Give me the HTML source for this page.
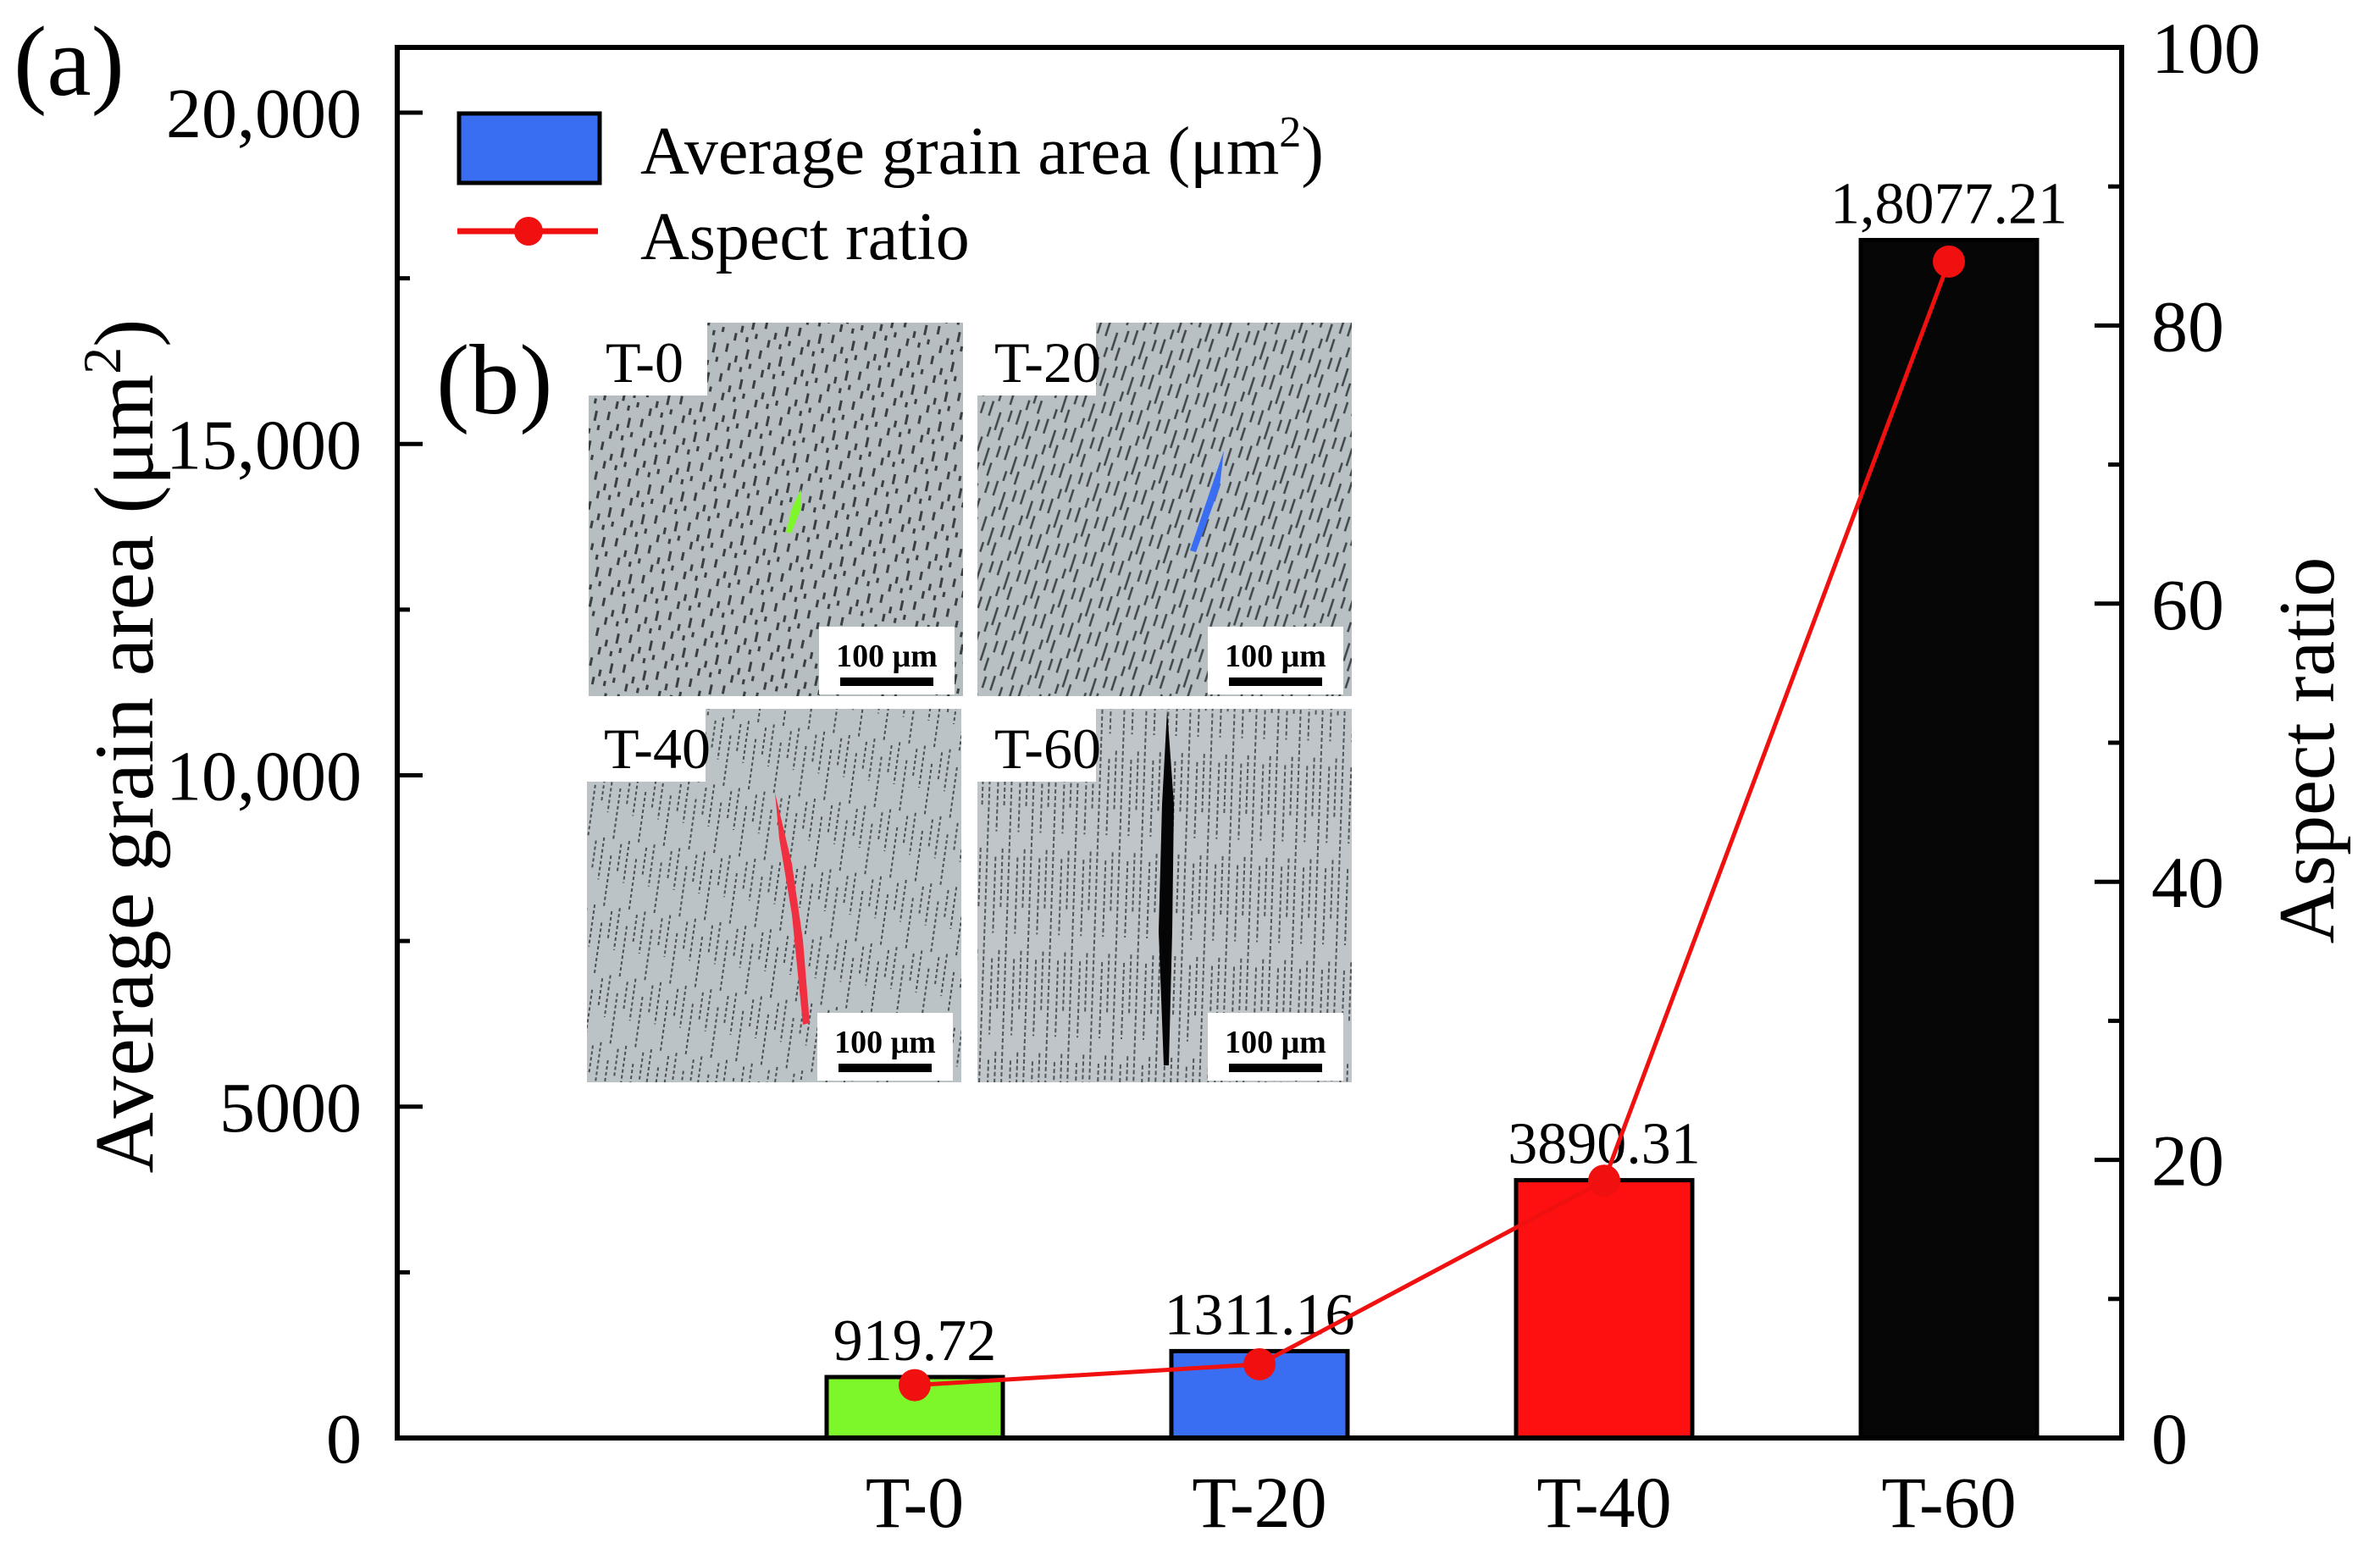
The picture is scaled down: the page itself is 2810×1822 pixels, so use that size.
<!DOCTYPE html>
<html><head><meta charset="utf-8"><style>
html,body{margin:0;padding:0;background:#fff;}
svg{display:block;font-family:"Liberation Serif",serif;}
</style></head><body>
<svg id="chart" width="2810" height="1822" viewBox="0 0 2810 1822" xmlns="http://www.w3.org/2000/svg" font-family="Liberation Serif, serif">
<defs>
<pattern id="pt0" width="40" height="36" patternUnits="userSpaceOnUse" patternTransform="rotate(12)">
<rect width="40" height="36" fill="#b7bec2"/>
<path d="M5 2v10M18 14v8M30 4v12M12 24v9M26 26v6M36 20v6" stroke="#3a3f42" stroke-width="3"/>
</pattern>
<pattern id="pt20" width="34" height="44" patternUnits="userSpaceOnUse" patternTransform="rotate(18)">
<rect width="34" height="44" fill="#b9c0c4"/>
<path d="M4 0v18M16 10v22M28 4v14M10 30v12M24 26v16" stroke="#40474a" stroke-width="2.5"/>
</pattern>
<pattern id="pt40" width="30" height="80" patternUnits="userSpaceOnUse" patternTransform="rotate(8)">
<rect width="30" height="80" fill="#bcc3c6"/>
<path d="M4 0v50M15 20v60M25 5v35" stroke="#4a5154" stroke-width="2" stroke-dasharray="4 3"/>
</pattern>
<pattern id="pt60" width="26" height="120" patternUnits="userSpaceOnUse" patternTransform="rotate(2)">
<rect width="26" height="120" fill="#bfc5c8"/>
<path d="M4 0v120M14 10v90M22 0v70" stroke="#50575a" stroke-width="2" stroke-dasharray="5 3"/>
</pattern>
</defs>
<g id="plot"></g>
</svg>
<script>
const categories = ["T-0","T-20","T-40","T-60"];
const grainArea = [919.72, 1311.16, 3890.31, 18077.21];
const areaLabels = ["919.72","1311.16","3890.31","1,8077.21"];
const aspectRatio = [3.8, 5.3, 18.5, 84.6];
const barColors = ["#7df72a","#3a6ef2","#ff1010","#060606"];
const leftTicks = [0,5000,10000,15000,20000];
const leftTickLabels = ["0","5000","10,000","15,000","20,000"];
const rightTicks = [0,20,40,60,80,100];

const NS="http://www.w3.org/2000/svg";
const g=document.getElementById('plot');
const L=469,R=2505,T=56,B=1698;
const yL=v=>B-(v/20000)*(B-133);
const yR=v=>B-(v/100)*(B-T);
const xC=i=>1080+i*407;
function el(tag,attrs,parent){const e=document.createElementNS(NS,tag);for(const k in attrs)e.setAttribute(k,attrs[k]);(parent||g).appendChild(e);return e;}
function txt(s,attrs){const e=el('text',attrs);e.textContent=s;return e;}

const panels=[[695,381,"T-0","pt0"],[1154,381,"T-20","pt20"],[693,837,"T-40","pt40"],[1154,837,"T-60","pt60"]];
panels.forEach((p,k)=>{
  const grp=el('g',{});
  
  
  el('rect',{x:p[0],y:p[1],width:442,height:441,fill:'url(#'+p[3]+')'},grp);
  el('rect',{x:p[0],y:p[1],width:140,height:86,fill:'#fff'},grp);
  const t=el('text',{x:p[0]+20,y:p[1]+70,'font-size':68,fill:'#000'},grp);t.textContent=p[2];
  el('rect',{x:p[0]+272,y:p[1]+359,width:160,height:80,fill:'#fff'},grp);
  const s=el('text',{x:p[0]+352,y:p[1]+406,'font-size':38,'font-weight':'bold','text-anchor':'middle'},grp);s.textContent="100 μm";
  el('rect',{x:p[0]+297,y:p[1]+419,width:110,height:10,fill:'#000'},grp);
});
el('path',{d:'M946 577 L935 600 L928 628 L934 630 L946 600 Z',fill:'#7df72a'});
el('path',{d:'M1445 532 L1432 570 L1405 650 L1412 652 L1440 575 Z',fill:'#3a6ef2'});
el('path',{d:'M915 936 L920 990 L935 1080 L948 1210 L956 1208 L948 1110 L935 1020 Z',fill:'#f03040'});
el('path',{d:'M1378 838 L1372 950 L1368 1100 L1374 1258 L1380 1258 L1384 1100 L1386 950 Z',fill:'#050505'});
txt("(b)",{x:515,y:488,'font-size':118});

categories.forEach((c,i)=>{
  const y=yL(grainArea[i]);
  const b=el('rect',{x:xC(i)-104,y:y,width:208,height:B-y,fill:barColors[i],stroke:'#000','stroke-width':5});
  
  
  const lb=txt(areaLabels[i],{x:xC(i),y:y-20,'font-size':70,'text-anchor':'middle'});
  
  const xl=txt(c,{x:xC(i),y:1803,'font-size':86,'text-anchor':'middle'});
  
  
});
const pts=aspectRatio.map((v,i)=>xC(i)+','+yR(v)).join(' ');
const ln=el('polyline',{points:pts,fill:'none',stroke:'#f01010','stroke-width':5});

aspectRatio.forEach((v,i)=>{
  const c=el('circle',{cx:xC(i),cy:yR(v),r:19,fill:'#f01010'});
  
  
});

const fr=el('rect',{x:L,y:T,width:R-L,height:B-T,fill:'none',stroke:'#000','stroke-width':6});

for(let v=0;v<=20000;v+=2500){const y=yL(v);el('line',{x1:L,x2:L+(v%5000?15:30),y1:y,y2:y,stroke:'#000','stroke-width':5});}
leftTicks.forEach((v,i)=>{const t=txt(leftTickLabels[i],{x:427,y:yL(v)+29,'font-size':84,'text-anchor':'end'});});
for(let v=0;v<=100;v+=10){const y=yR(v);el('line',{x1:R,x2:R-(v%20?16:32),y1:y,y2:y,stroke:'#000','stroke-width':5});}
rightTicks.forEach(v=>{const t=txt(String(v),{x:2540,y:yR(v)+30,'font-size':86});});

const yt=txt("",{transform:'translate(180,881) rotate(-90)','font-size':100,'text-anchor':'middle',textLength:1009,lengthAdjust:'spacingAndGlyphs'});
yt.innerHTML='Average grain area  (μm<tspan font-size="64" dy="-38">2</tspan><tspan dy="38">)</tspan>';

const rt=txt("Aspect ratio",{transform:'translate(2755,886) rotate(-90)','font-size':94,'text-anchor':'middle'});

txt("(a)",{x:16,y:112,'font-size':118});

const lg=el('g',{});


el('rect',{x:542,y:134,width:166,height:82,fill:'#3a6ef2',stroke:'#000','stroke-width':5},lg);
const l1=el('text',{x:756,y:205,'font-size':80},lg);
l1.innerHTML='Average grain area  (μm<tspan font-size="52" dy="-32">2</tspan><tspan dy="32">)</tspan>';

el('line',{x1:540,x2:706,y1:273,y2:273,stroke:'#f01010','stroke-width':7},lg);
el('circle',{cx:624,cy:273,r:17,fill:'#f01010'},lg);
const l2=el('text',{x:756,y:306,'font-size':80},lg);l2.textContent='Aspect ratio';

</script>
</body></html>
